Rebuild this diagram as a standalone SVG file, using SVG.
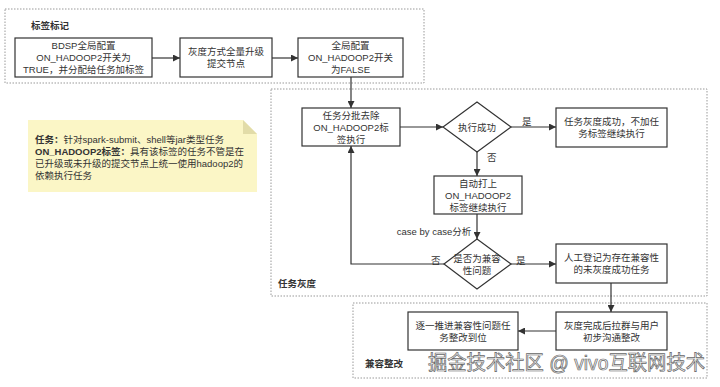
<svg xmlns="http://www.w3.org/2000/svg" width="720" height="387" viewBox="0 0 720 387">
<defs>
<style>
.t{font-family:"Liberation Sans","Noto Sans CJK SC",sans-serif;font-size:9.5px;fill:#333;text-anchor:middle}
.l{font-family:"Liberation Sans","Noto Sans CJK SC",sans-serif;font-size:9.5px;fill:#333}
.b{font-weight:bold}
.box{fill:#fff;stroke:#333;stroke-width:1.2}
.grp{fill:none;stroke:#999;stroke-width:1;stroke-dasharray:1.5 1.5}
.c{fill:none;stroke:#333;stroke-width:1.2}
</style>
<marker id="ah" viewBox="0 0 10 10" refX="10" refY="5" markerWidth="7" markerHeight="7" markerUnits="userSpaceOnUse" orient="auto">
<path d="M0,0 L10,5 L0,10 Z" fill="#333"/>
</marker>
</defs>
<rect width="720" height="387" fill="#fff"/>

<g id="groups">
<rect class="grp" x="5" y="9" width="419" height="74"/>
<text class="l b" x="31" y="29">标签标记</text>
<rect class="grp" x="271" y="89" width="436" height="207"/>
<text class="l b" x="278" y="287">任务灰度</text>
<rect class="grp" x="353" y="303" width="354" height="75"/>
<text class="l b" x="365" y="367">兼容整改</text>
</g>

<g id="note">
<path d="M28,120 H243 L257,134 V192 H28 Z" fill="#fbf6c6"/>
<path d="M243,120 V134 H257 Z" fill="#e2dca8"/>
<text class="l" x="35" y="143"><tspan class="b">任务：</tspan>针对spark-submit、shell等jar类型任务</text>
<text class="l" x="35" y="155"><tspan class="b">ON_HADOOP2标签：</tspan>具有该标签的任务不管是在</text>
<text class="l" x="35" y="167">已升级或未升级的提交节点上统一使用hadoop2的</text>
<text class="l" x="35" y="179">依赖执行任务</text>
</g>

<g id="connectors">
<line class="c" x1="152" y1="58" x2="180" y2="58" marker-end="url(#ah)"/>
<line class="c" x1="272" y1="58" x2="298" y2="58" marker-end="url(#ah)"/>
<line class="c" x1="351" y1="77" x2="351" y2="108" marker-end="url(#ah)"/>
<line class="c" x1="400" y1="127" x2="443" y2="127" marker-end="url(#ah)"/>
<line class="c" x1="511" y1="127" x2="556" y2="127" marker-end="url(#ah)"/>
<line class="c" x1="477" y1="152" x2="477" y2="176" marker-end="url(#ah)"/>
<line class="c" x1="477" y1="214" x2="477" y2="239" marker-end="url(#ah)"/>
<polyline class="c" points="444,264 351,264 351,146" marker-end="url(#ah)"/>
<line class="c" x1="511" y1="264" x2="556" y2="264" marker-end="url(#ah)"/>
<line class="c" x1="611" y1="283" x2="611" y2="312" marker-end="url(#ah)"/>
<line class="c" x1="556" y1="331" x2="518" y2="331" marker-end="url(#ah)"/>
<text class="l" x="522" y="124.5">是</text>
<text class="l" x="487" y="161">否</text>
<text class="t" x="434" y="234.5">case by case分析</text>
<text class="l" x="431" y="264">否</text>
<text class="l" x="516" y="264">是</text>
</g>

<g id="n1">
<rect class="box" x="15" y="38" width="137" height="39"/>
<text class="t" x="83.5" y="49">BDSP全局配置</text>
<text class="t" x="83.5" y="61">ON_HADOOP2开关为</text>
<text class="t" x="83.5" y="73">TRUE，并分配给任务加标签</text>
</g>
<g id="n2">
<rect class="box" x="180" y="38" width="92" height="39"/>
<text class="t" x="226" y="55">灰度方式全量升级</text>
<text class="t" x="226" y="67">提交节点</text>
</g>
<g id="n3">
<rect class="box" x="298" y="38" width="105" height="39"/>
<text class="t" x="350.5" y="49">全局配置</text>
<text class="t" x="350.5" y="61">ON_HADOOP2开关</text>
<text class="t" x="350.5" y="73">为FALSE</text>
</g>
<g id="n4">
<rect class="box" x="302" y="108" width="98" height="38"/>
<text class="t" x="351" y="118.5">任务分批去除</text>
<text class="t" x="351" y="130.5">ON_HADOOP2标</text>
<text class="t" x="351" y="142.5">签执行</text>
</g>
<g id="d1">
<polygon class="box" points="443,127 477,102 511,127 477,152"/>
<text class="t" x="477" y="130.5">执行成功</text>
</g>
<g id="n5">
<rect class="box" x="556" y="108" width="111" height="39"/>
<text class="t" x="611.5" y="125">任务灰度成功，不加任</text>
<text class="t" x="611.5" y="137">务标签继续执行</text>
</g>
<g id="n6">
<rect class="box" x="434" y="176" width="88" height="38"/>
<text class="t" x="478" y="186.5">自动打上</text>
<text class="t" x="478" y="198.5">ON_HADOOP2</text>
<text class="t" x="478" y="210.5">标签继续执行</text>
</g>
<g id="d2">
<polygon class="box" points="444,264 477,239 511,264 477,289"/>
<text class="t" x="477" y="261.5">是否为兼容</text>
<text class="t" x="477" y="273.5">性问题</text>
</g>
<g id="n7">
<rect class="box" x="556" y="244" width="111" height="39"/>
<text class="t" x="611.5" y="260.5">人工登记为存在兼容性</text>
<text class="t" x="611.5" y="272.5">的未灰度成功任务</text>
</g>
<g id="n8">
<rect class="box" x="556" y="312" width="111" height="38"/>
<text class="t" x="611.5" y="328.5">灰度完成后拉群与用户</text>
<text class="t" x="611.5" y="340.5">初步沟通整改</text>
</g>
<g id="n9">
<rect class="box" x="408" y="312" width="110" height="38"/>
<text class="t" x="463" y="328.5">逐一推进兼容性问题任</text>
<text class="t" x="463" y="340.5">务整改到位</text>
</g>

<text x="428" y="370" textLength="277" lengthAdjust="spacingAndGlyphs" style="font-family:'Liberation Sans','Noto Sans CJK SC',sans-serif;font-size:20px;fill:#f2f2f2;stroke:#666;stroke-width:0.7">掘金技术社区 @ vivo互联网技术</text>
</svg>
